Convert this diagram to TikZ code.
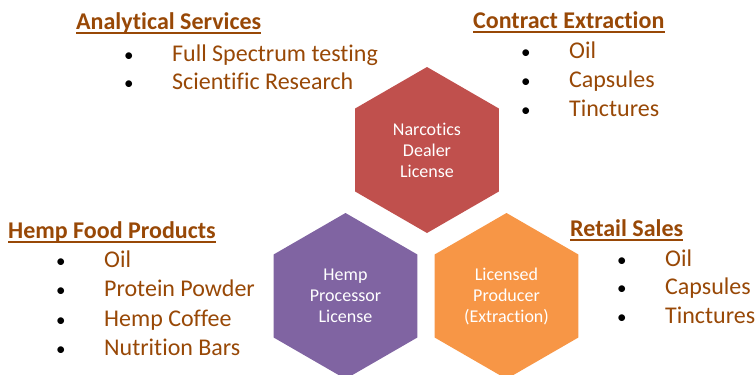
\documentclass[tikz,border=0pt]{standalone}
\usepackage{fontspec}
\setmainfont[Ligatures=NoCommon]{Carlito}
\usetikzlibrary{positioning,shapes.geometric}

\definecolor{txtbrown}{HTML}{984806}
\definecolor{hexred}{HTML}{C0504D}
\definecolor{hexpurple}{HTML}{8064A2}
\definecolor{hexorange}{HTML}{F79646}

\tikzset{
  hex/.style={regular polygon, regular polygon sides=6, shape border rotate=30,
    minimum size=166pt, inner sep=0pt, text=white, align=center,
    font=\fontsize{18}{21}\selectfont},
  title/.style={anchor=base west, inner sep=0pt, text=txtbrown,
    font=\fontsize{24}{29}\selectfont\bfseries},
  item/.style={anchor=base west, inner sep=0pt, text=txtbrown,
    font=\fontsize{24}{29}\selectfont},
  uline/.style={draw=txtbrown, line width=1.6pt},
}
\newcommand{\bul}{\makebox[48pt][l]{\fontsize{19}{19}\selectfont\textcolor{black}{\textbullet}}}

\begin{document}
\begin{tikzpicture}[x=1pt, y=-1pt]
    \clip (0,0) rectangle (756,375);

    % licences
    \node (narco) [hex, fill=hexred] at (427,150) {Narcotics\\Dealer\\License};
    \node (hemp) [hex, fill=hexpurple] at (345.5,296) {Hemp\\Processor\\License};
    \node (lp) [hex, fill=hexorange] at (506.5,296) {Licensed\\Producer\\(Extraction)};

    % analytical services
    \node (as) [title] at (76,29) {Analytical Services};
    \draw[uline] ([yshift=-4pt]as.base west) -- ([yshift=-4pt]as.base east);
    \node (as1) [item] at (124,61) {\bul Full Spectrum testing};
    \node (as2) [item, below=28pt of as1.base west, anchor=base west] {\bul Scientific Research};

    % contract extraction
    \node (ce) [title] at (473,28) {Contract Extraction};
    \draw[uline] ([yshift=-4pt]ce.base west) -- ([yshift=-4pt]ce.base east);
    \node (ce1) [item] at (521,58) {\bul Oil};
    \node (ce2) [item, below=29pt of ce1.base west, anchor=base west] {\bul Capsules};
    \node (ce3) [item, below=29pt of ce2.base west, anchor=base west] {\bul Tinctures};

    % hemp food products
    \node (hf) [title] at (8,238) {Hemp Food Products};
    \draw[uline] ([yshift=-4pt]hf.base west) -- ([yshift=-4pt]hf.base east);
    \node (hf1) [item] at (56,267) {\bul Oil};
    \node (hf2) [item, below=29.5pt of hf1.base west, anchor=base west] {\bul Protein Powder};
    \node (hf3) [item, below=29.5pt of hf2.base west, anchor=base west] {\bul Hemp Coffee};
    \node (hf4) [item, below=29.5pt of hf3.base west, anchor=base west] {\bul Nutrition Bars};

    % retail sales
    \node (rs) [title] at (570,236) {Retail Sales};
    \draw[uline] ([yshift=-4pt]rs.base west) -- ([yshift=-4pt]rs.base east);
    \node (rs1) [item] at (617,266) {\bul Oil};
    \node (rs2) [item, below=28.5pt of rs1.base west, anchor=base west] {\bul Capsules};
    \node (rs3) [item, below=28.5pt of rs2.base west, anchor=base west] {\bul Tinctures};
\end{tikzpicture}
\end{document}
